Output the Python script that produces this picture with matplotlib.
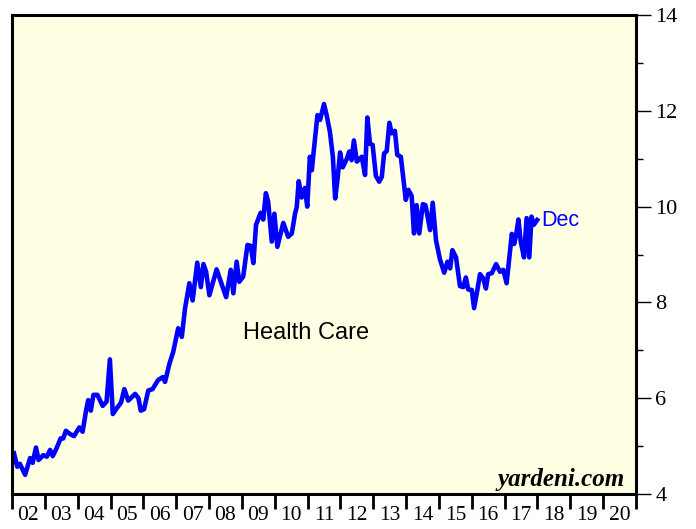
import matplotlib
matplotlib.use("Agg")
import matplotlib.pyplot as plt
from matplotlib.ticker import MultipleLocator, FixedLocator, NullFormatter

# Health Care forward P/E, decimal year vs value
years = [2002.06, 2002.16, 2002.24, 2002.40, 2002.55, 2002.63, 2002.73, 2002.81, 2002.95,
         2003.06, 2003.16, 2003.24, 2003.36, 2003.48, 2003.56, 2003.64, 2003.77, 2003.89,
         2004.05, 2004.15, 2004.25, 2004.32, 2004.40, 2004.48, 2004.60, 2004.76, 2004.88, 2004.98,
         2005.07, 2005.19, 2005.32, 2005.42, 2005.54, 2005.75, 2005.85, 2005.92,
         2006.02, 2006.15, 2006.28, 2006.45, 2006.59, 2006.66, 2006.79, 2006.91,
         2007.06, 2007.17, 2007.27, 2007.40, 2007.50, 2007.64, 2007.75, 2007.83, 2007.91,
         2008.01, 2008.23, 2008.52, 2008.66, 2008.74, 2008.84, 2008.92,
         2009.04, 2009.17, 2009.27, 2009.35, 2009.43, 2009.57, 2009.65, 2009.73, 2009.80, 2009.91, 2009.99,
         2010.08, 2010.26, 2010.41, 2010.52, 2010.62, 2010.67, 2010.73, 2010.82, 2010.92, 2010.99,
         2011.07, 2011.13, 2011.17, 2011.30, 2011.38, 2011.50, 2011.58, 2011.68, 2011.77, 2011.84, 2011.91, 2011.99,
         2012.07, 2012.19, 2012.27, 2012.34, 2012.41, 2012.50, 2012.65, 2012.75, 2012.82, 2012.90, 2012.98,
         2013.08, 2013.18, 2013.26, 2013.33, 2013.41, 2013.49, 2013.56, 2013.66, 2013.73, 2013.84, 2013.99,
         2014.07, 2014.17, 2014.24, 2014.32, 2014.40, 2014.51, 2014.59, 2014.73, 2014.81, 2014.91,
         2015.03, 2015.16, 2015.26, 2015.34, 2015.41, 2015.52, 2015.64, 2015.74, 2015.82, 2015.89,
         2016.00, 2016.07, 2016.17, 2016.25, 2016.35, 2016.43, 2016.50, 2016.61, 2016.74, 2016.86, 2016.96,
         2017.06, 2017.22, 2017.29, 2017.35, 2017.42, 2017.49, 2017.59, 2017.67, 2017.75, 2017.82, 2017.89, 2017.99]
values = [4.85, 4.57, 4.63, 4.40, 4.75, 4.65, 4.97, 4.71, 4.81,
          4.78, 4.92, 4.79, 4.96, 5.16, 5.16, 5.32, 5.25, 5.21,
          5.39, 5.30, 5.72, 5.96, 5.74, 6.07, 6.07, 5.84, 5.93, 6.81,
          5.67, 5.79, 5.91, 6.19, 5.95, 6.09, 6.00, 5.74,
          5.77, 6.16, 6.19, 6.38, 6.44, 6.34, 6.71, 6.97,
          7.46, 7.28, 7.88, 8.40, 8.04, 8.83, 8.32, 8.80, 8.64,
          8.15, 8.69, 8.11, 8.68, 8.19, 8.85, 8.43,
          8.54, 9.20, 9.18, 8.82, 9.62, 9.87, 9.73, 10.28, 10.10, 9.27, 9.85,
          9.16, 9.66, 9.37, 9.44, 9.86, 9.99, 10.53, 10.19, 10.39, 10.00,
          11.04, 10.76, 11.04, 11.91, 11.81, 12.14, 11.91, 11.56, 11.04, 10.17, 10.56, 11.13,
          10.82, 10.99, 11.15, 10.97, 11.38, 10.94, 11.04, 10.66, 11.86, 11.31, 11.29,
          10.64, 10.52, 10.62, 11.11, 11.16, 11.75, 11.53, 11.58, 11.08, 11.04, 10.14,
          10.35, 10.22, 9.44, 10.03, 9.44, 10.05, 10.03, 9.51, 10.08, 9.30,
          8.90, 8.62, 8.85, 8.71, 9.09, 8.94, 8.34, 8.32, 8.52, 8.27,
          8.26, 7.88, 8.26, 8.59, 8.50, 8.29, 8.59, 8.61, 8.80, 8.64, 8.68,
          8.40, 9.43, 9.22, 9.41, 9.73, 9.27, 8.94, 9.76, 8.94, 9.79, 9.62, 9.72]

year_labels = ["02", "03", "04", "05", "06", "07", "08", "09", "10",
               "11", "12", "13", "14", "15", "16", "17", "18", "19", "20"]

fig = plt.figure(figsize=(6.96, 5.29), dpi=100)
ax = fig.add_axes([12 / 696, 1 - 494 / 529, 624 / 696, 479 / 529])
ax.set_facecolor("#FFFFE4")

ax.plot(years, values, color="#0000FF", lw=3.3, solid_joinstyle="round")

ax.set_xlim(2002, 2021)
ax.set_ylim(4, 14)

for s in ax.spines.values():
    s.set_linewidth(2.2)

# y axis on the right
ax.yaxis.tick_right()
ax.yaxis.set_major_locator(MultipleLocator(2))
ax.yaxis.set_minor_locator(MultipleLocator(1))
ax.tick_params(axis="y", which="major", length=11, width=1, pad=3,
               labelsize=16, direction="out")
ax.tick_params(axis="y", which="minor", length=5, width=1, direction="out")

# x axis: ticks on year boundaries, labels centred in between
ax.xaxis.set_major_locator(FixedLocator(range(2002, 2022)))
ax.xaxis.set_major_formatter(NullFormatter())
ax.xaxis.set_minor_locator(FixedLocator([y + 0.5 for y in range(2002, 2021)]))
ax.set_xticklabels(year_labels, minor=True)
ax.tick_params(axis="x", which="major", length=11, width=2, direction="out")
ax.tick_params(axis="x", which="minor", length=0, pad=9, labelsize=15.5)

for lbl in ax.get_xticklabels(minor=True) + ax.get_yticklabels():
    lbl.set_fontfamily("Liberation Serif")

ax.text(2010.95, 7.36, "Health Care", fontsize=17, family="Liberation Sans",
        ha="center", va="center")
ax.text(2018.1, 9.72, "Dec", fontsize=15.5, family="Liberation Sans",
        color="#0000FF", ha="left", va="center")
ax.text(2020.67, 4.3, "yardeni.com", fontsize=18, family="Liberation Serif",
        style="italic", weight="bold", ha="right", va="center")

fig.savefig("out.png", dpi=100)
